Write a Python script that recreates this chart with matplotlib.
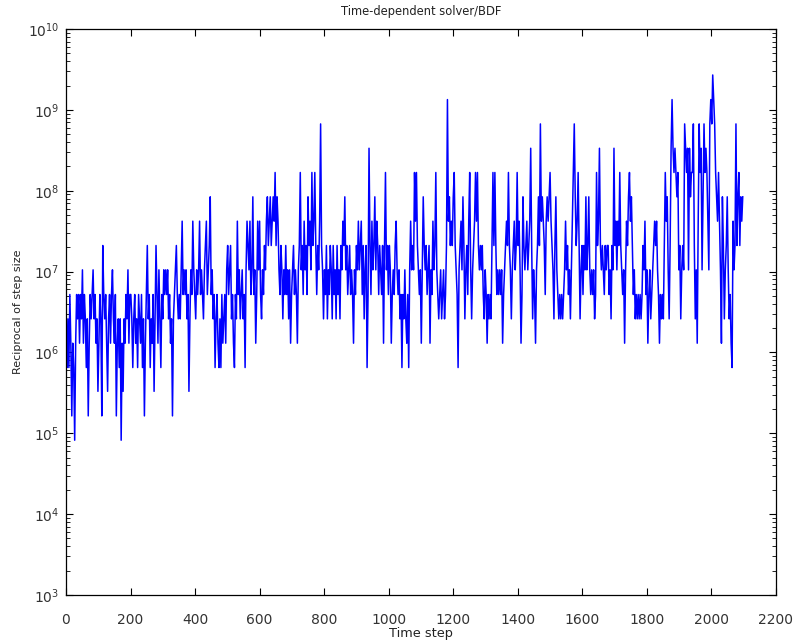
import numpy as np
import matplotlib
matplotlib.use("Agg")
import matplotlib.pyplot as plt
from matplotlib.ticker import LogLocator, FixedLocator, NullFormatter

# BDF step sizes are halved/doubled, so 1/dt sits on a ladder of levels.
# level values (index 0 .. 15)
step_levels = [8.2e4, 1.64e5, 3.3e5, 6.5e5, 1.3e6, 2.6e6, 5.2e6, 1.05e7,
               2.1e7, 4.2e7, 8.4e7, 1.68e8, 3.35e8, 6.7e8, 1.34e9, 2.7e9]

# one hex digit per sample (every 3rd time step), index into step_levels
seg_0_230 = ("4353641430" "4656465746" "5351465675" "6452465186"
             "5642564675" "4614535042" "5465746653" "564536")
seg_230_470 = ("5463514685" "6354625864" "7536576767" "5645156786"
               "5657967675" "6257697657" "6796765789" "678a675635" "6")
seg_470_715 = ("4353645647" "8678564365" "9675675637" "987967a674"
               "6979657687" "9a89a89a9b" "8a97687576" "8675746786" "7")
seg_715_955 = ("6478b78697" "86a897b89b" "86879d8757" "6857687586"
               "7586758798" "a786786764" "7687978968" "57836c8697")
seg_955_1195 = ("8a79868768" "48b7868746" "7689767563" "6575463797"
                "87b9b87674" "7a87867847" "6978b76567" "567568e9a8")
seg_1195_1435 = ("98ab876378" "97a857869b" "75789b9b87" "8786576465"
                 "658b8b8676" "767467898b" "87578978b8" "9746a87897")
seg_1435_1680 = ("89c8576478" "a8d9a9869a" "9ab98758a7" "6565656797"
                 "867579bda8" "9b8578687a" "78a7676756" "b89c878768" "78")
seg_1680_1920 = ("867587c897" "98b8767479" "8ab9a86756" "5656568796"
                 "7467567898" "976465658b" "9a758cecbc" "bab785787d")
seg_1920_2100 = ("cbc7cabbd8" "5749dbc7ad" "bcb97dedfe" "dba9b974a8"
                 "578a756439" "78d8ab8a9a")

x_ticks = [0, 200, 400, 600, 800, 1000, 1200, 1400, 1600, 1800, 2000, 2200]
y_ticks = [1e3, 1e4, 1e5, 1e6, 1e7, 1e8, 1e9, 1e10]

segments = [seg_0_230, seg_230_470, seg_470_715, seg_715_955, seg_955_1195,
            seg_1195_1435, seg_1435_1680, seg_1680_1920, seg_1920_2100]
levels = [int(c, 16) for c in "".join(segments)]
recip = np.array([step_levels[k] for k in levels])
steps = np.arange(len(recip)) * 3

fig = plt.figure(figsize=(7.94, 6.43), dpi=100)
ax = fig.add_axes([0.0831, 0.0747, 0.8942, 0.8802])

ax.plot(steps, recip, color="#0000ff", linewidth=1.1)

ax.set_yscale("log")
ax.set_xlim(0, 2200)
ax.set_ylim(1e3, 1e10)
ax.xaxis.set_major_locator(FixedLocator(x_ticks))
ax.yaxis.set_major_locator(FixedLocator(y_ticks))
ax.yaxis.set_minor_locator(LogLocator(base=10, subs=np.arange(2, 10), numticks=20))
ax.yaxis.set_minor_formatter(NullFormatter())

ax.tick_params(which="both", direction="in", top=True, right=True,
               labelsize=10, labelcolor="#333333", color="black")
ax.tick_params(which="major", length=5, width=0.8)
ax.tick_params(which="minor", length=3, width=0.6)
ax.tick_params(axis="x", which="major", pad=13)
ax.tick_params(axis="y", which="major", pad=5)
for s in ax.spines.values():
    s.set_linewidth(0.9)

ax.set_title("Time-dependent solver/BDF", fontsize=8.3, color="#222222", pad=10)
ax.set_xlabel("Time step", fontsize=9.3, color="#222222", labelpad=0)
ax.set_ylabel("Reciprocal of step size", fontsize=8, color="#222222", labelpad=3)

fig.savefig("out.png", dpi=100)
